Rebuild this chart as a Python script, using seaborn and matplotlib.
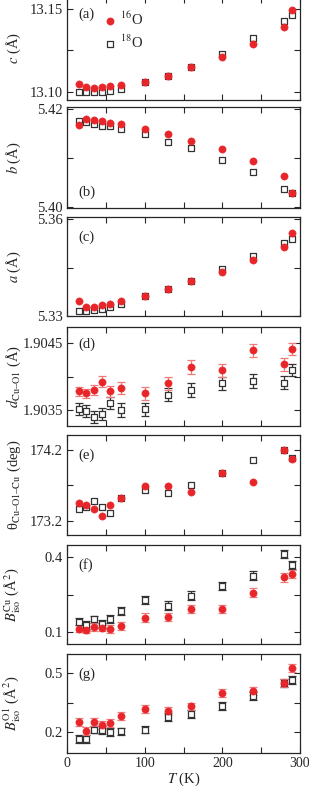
import numpy as np
import pandas as pd
import matplotlib
matplotlib.use("Agg")
import matplotlib.pyplot as plt
import seaborn as sns

# temperatures (K)
T = [15, 25, 35, 45, 55, 70, 100, 130, 160, 200, 240, 280, 290]

# (a) c lattice parameter
c_16 = [13.1046, 13.1028, 13.1026, 13.1030, 13.1036, 13.1042, 13.1062, 13.1094, 13.1150, 13.1212, 13.1286, 13.1388, 13.1492]
c_18 = [13.1000, 13.0998, 13.1000, 13.1002, 13.1008, 13.1016, 13.1058, 13.1094, 13.1150, 13.1230, 13.1322, 13.1428, 13.1460]

# (b) b lattice parameter
b_16 = [5.4168, 5.4180, 5.4178, 5.4175, 5.4172, 5.4170, 5.4159, 5.4148, 5.4135, 5.4119, 5.4093, 5.4064, 5.4028]
b_18 = [5.4176, 5.4174, 5.4170, 5.4166, 5.4165, 5.4159, 5.4148, 5.4132, 5.4120, 5.4096, 5.4071, 5.4036, 5.4028]

# (c) a lattice parameter
a_16 = [5.3345, 5.3329, 5.3329, 5.3334, 5.3337, 5.3347, 5.3361, 5.3383, 5.3407, 5.3435, 5.3473, 5.3513, 5.3556]
a_18 = [5.3315, 5.3316, 5.3320, 5.3323, 5.3328, 5.3338, 5.3361, 5.3385, 5.3409, 5.3447, 5.3485, 5.3527, 5.3540]

# (d) Cu-O1 distance
d_16 = [1.90378, 1.90375, 1.90380, 1.90392, 1.90378, 1.90383, 1.90375, 1.90390, 1.90414, 1.90409, 1.90439, 1.90418, 1.90441]
d_16_err = [0.00007, 0.00007, 0.00008, 0.00008, 0.00008, 0.00009, 0.0001, 0.0001, 0.00011, 0.0001, 0.0001, 0.0001, 0.00009]
d_18 = [1.90351, 1.90349, 1.90340, 1.90344, 1.90360, 1.90350, 1.90351, 1.90373, 1.90380, 1.90390, 1.90393, 1.90391, 1.90410]
d_18_err = [0.00009, 0.00009, 0.00009, 0.00009, 0.00009, 0.0001, 0.0001, 0.0001, 0.0001, 0.0001, 0.0001, 0.0001, 0.00009]

# (e) Cu-O1-Cu angle
th_16 = [173.458, 173.425, 173.374, 173.275, 173.430, 173.519, 173.693, 173.693, 173.608, 173.871, 173.754, 174.200, 174.070]
th_18 = [173.364, 173.392, 173.486, 173.392, 173.317, 173.528, 173.636, 173.589, 173.707, 173.871, 174.054, 174.200, 174.090]

# (f) B_iso Cu
bcu_16 = [0.115, 0.111, 0.121, 0.119, 0.113, 0.127, 0.159, 0.161, 0.193, 0.193, 0.259, 0.320, 0.333]
bcu_18 = [0.143, 0.130, 0.152, 0.133, 0.153, 0.185, 0.229, 0.207, 0.247, 0.285, 0.327, 0.413, 0.368]
bcu_err = [0.015, 0.015, 0.015, 0.015, 0.015, 0.016, 0.017, 0.017, 0.017, 0.017, 0.017, 0.017, 0.016]

# (g) B_iso O1
bo_16 = [0.249, 0.203, 0.249, 0.234, 0.247, 0.283, 0.315, 0.305, 0.330, 0.397, 0.411, 0.449, 0.525]
bo_18 = [0.163, 0.165, 0.212, 0.208, 0.198, 0.202, 0.212, 0.278, 0.293, 0.332, 0.382, 0.449, 0.466]
bo_err = [0.02, 0.02, 0.02, 0.02, 0.02, 0.02, 0.02, 0.02, 0.02, 0.02, 0.02, 0.02, 0.02]

RED = "#e8262a"
RED_ERR = "#f07a7a"
GRAY = "#333333"

sns.set_style("ticks")
plt.rcParams["font.family"] = ["Liberation Serif", "DejaVu Serif"]
plt.rcParams["mathtext.fontset"] = "stix"
plt.rcParams["font.size"] = 10.5

panels = [
    # (values16, values18, err16, err18, ylim, yticks, labels, ylabel, tag, tag_y)
    (c_16, c_18, None, None, (13.0952, 13.1570), [13.10, 13.125, 13.15], ["13.10", "", "13.15"],
     r"$c$ (Å)", "(a)", 0.80),
    (b_16, b_18, None, None, (5.3998, 5.4204), [5.40, 5.41, 5.42], ["5.40", "", "5.42"],
     r"$b$ (Å)", "(b)", 0.12),
    (a_16, a_18, None, None, (5.3300, 5.3607), [5.33, 5.345, 5.36], ["5.33", "", "5.36"],
     r"$a$ (Å)", "(c)", 0.76),
    (d_16, d_18, d_16_err, d_18_err, (1.90326, 1.90474), [1.9035, 1.9040, 1.9045], ["1.9035", "", "1.9045"],
     r"$d_{\rm Cu–O1}$ (Å)", "(d)", 0.79),
    (th_16, th_18, None, None, (173.003, 174.41), [173.2, 173.7, 174.2], ["173.2", "", "174.2"],
     r"θ$_{\rm Cu–O1–Cu}$ (deg)", "(e)", 0.76),
    (bcu_16, bcu_18, bcu_err, bcu_err, (0.053, 0.449), [0.1, 0.25, 0.4], ["0.1", "", "0.4"],
     r"$B_{\rm iso}^{\rm Cu}$ (Å$^2$)", "(f)", 0.76),
    (bo_16, bo_18, bo_err, bo_err, (0.092, 0.598), [0.2, 0.35, 0.5], ["0.2", "", "0.5"],
     r"$B_{\rm iso}^{\rm O1}$ (Å$^2$)", "(g)", 0.76),
]

# panel frames in pixels (top, bottom)
frames = [(-3, 100), (107, 208), (217, 316), (327, 426), (435, 535), (545, 644), (654, 753)]
W, H = 309, 786
left, right = 67, 300

fig = plt.figure(figsize=(W / 100, H / 100), dpi=100)

for i, (v16, v18, e16, e18, ylim, yt, ytl, ylab, tag, tag_y) in enumerate(panels):
    top, bot = frames[i]
    ax = fig.add_axes([left / W, 1 - bot / H, (right - left) / W, (bot - top) / H])
    df = pd.DataFrame({
        "T": T * 2,
        "val": list(v16) + list(v18),
        "iso": ["16"] * len(T) + ["18"] * len(T),
    })
    if e18 is not None:
        ax.errorbar(T, v18, yerr=e18, fmt="none", ecolor=GRAY, elinewidth=0.9,
                    capsize=3, capthick=0.9, zorder=1)
    if e16 is not None:
        ax.errorbar(T, v16, yerr=e16, fmt="none", ecolor=RED_ERR, elinewidth=0.9,
                    capsize=3, capthick=0.9, zorder=2)
    sns.scatterplot(data=df[df.iso == "18"], x="T", y="val", ax=ax, marker="s", s=15,
                    facecolor="white", edgecolor=GRAY, linewidth=0.9, zorder=3,
                    label=r"$^{18}$O")
    sns.scatterplot(data=df[df.iso == "16"], x="T", y="val", ax=ax, marker="o", s=27,
                    color=RED, edgecolor=RED, linewidth=0.4, zorder=4,
                    label=r"$^{16}$O")
    ax.set_xlim(0, 300)
    ax.set_ylim(*ylim)
    ax.set_yticks(yt)
    ax.set_yticklabels(ytl)
    ax.set_xticks(range(0, 301, 50))
    if i == len(panels) - 1:
        ax.set_xticklabels(["0", "", "100", "", "200", "", "300"], fontsize=10)
        ax.set_xlabel(r"$T$ (K)", labelpad=0)
    else:
        ax.set_xticklabels([])
        ax.set_xlabel("")
    ax.set_ylabel(ylab)
    ax.yaxis.set_label_coords(-0.19, 0.5)
    ax.tick_params(direction="in", top=True, right=True, length=4, width=0.8, pad=3)
    for sp in ax.spines.values():
        sp.set_linewidth(0.9)
    ax.text(0.05, tag_y, tag, transform=ax.transAxes, fontsize=10.5)
    if i == 0:
        h, l = ax.get_legend_handles_labels()
        ax.legend(h[::-1], l[::-1], loc="upper left", bbox_to_anchor=(0.12, 0.93),
                  frameon=False, handletextpad=0.1, borderaxespad=0, labelspacing=0.4,
                  fontsize=10.5, handlelength=1.2)
    else:
        if ax.get_legend() is not None:
            ax.get_legend().remove()

fig.savefig("out.png", dpi=100)
